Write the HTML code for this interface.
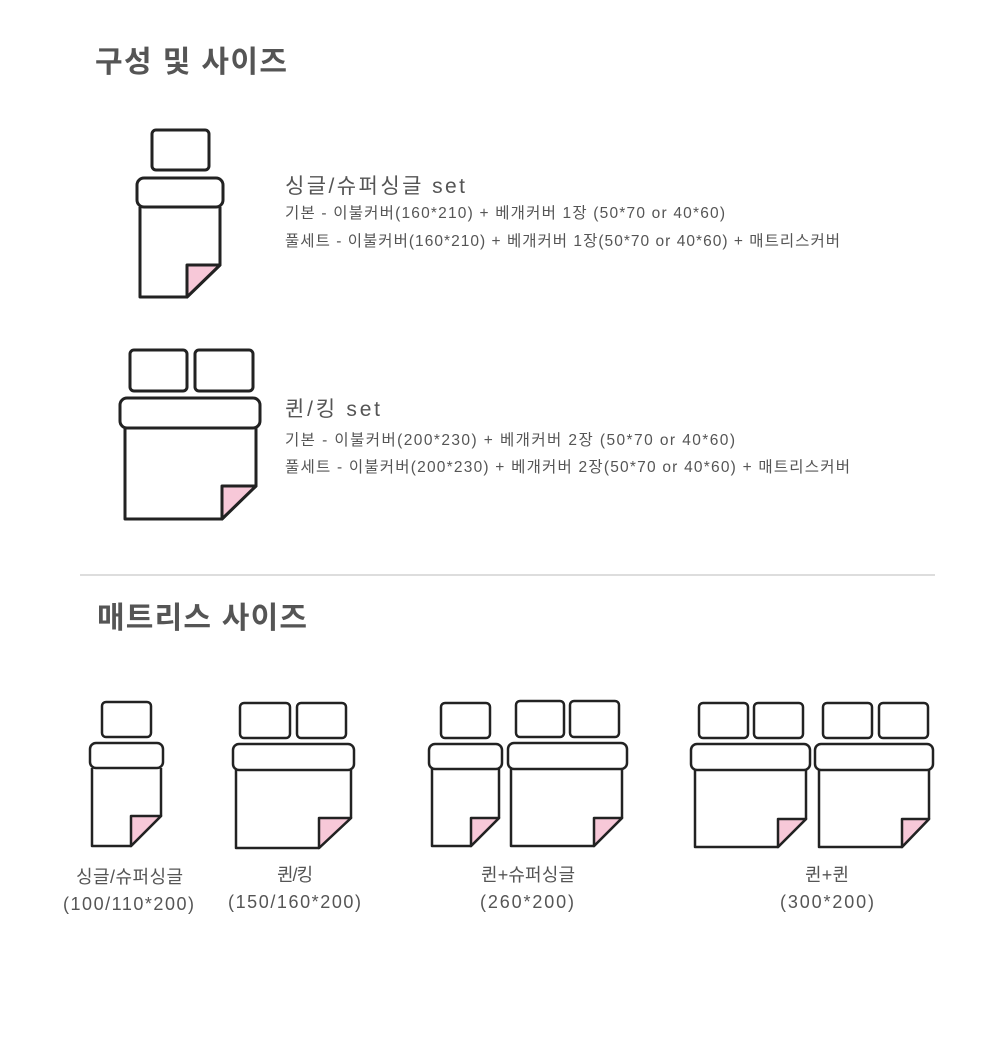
<!DOCTYPE html>
<html><head><meta charset="utf-8"><style>
body{margin:0;background:#fff;width:1000px;height:1061px;overflow:hidden}
svg{display:block}
text{font-family:"Liberation Sans","Noto Sans CJK KR",sans-serif;fill:#555}
.b{fill:#fff;stroke:#222;stroke-linejoin:round}
.p{fill:#f7c8d8;stroke:#222;stroke-linejoin:round}
</style></head><body>
<svg width="1000" height="1061" viewBox="0 0 1000 1061">
<text x="95" y="72" font-size="30" font-weight="bold" textLength="192" lengthAdjust="spacing">구성 및 사이즈</text>
<text x="97" y="628" font-size="30" font-weight="bold" textLength="210" lengthAdjust="spacing">매트리스 사이즈</text>
<line x1="80" y1="575" x2="935" y2="575" stroke="#bbb" stroke-width="1"/>

<g stroke-width="3">
<rect class="b" x="152" y="130" width="57" height="40" rx="4"/>
<path class="b" d="M140,207 L140,297 L187,297 L220,265 L220,207"/>
<rect class="b" x="137" y="178" width="86" height="29" rx="7"/>
<path class="p" d="M187,265 L220,265 L187,297 Z"/>

<rect class="b" x="130" y="350" width="57" height="41" rx="4"/>
<rect class="b" x="195" y="350" width="58" height="41" rx="4"/>
<path class="b" d="M125,428 L125,519 L222,519 L256,486 L256,428"/>
<rect class="b" x="120" y="398" width="140" height="30" rx="7"/>
<path class="p" d="M222,486 L256,486 L222,519 Z"/>
</g>

<text x="285" y="193" font-size="21" textLength="180" lengthAdjust="spacing">싱글/슈퍼싱글 set</text>
<text x="285" y="218" font-size="15.5" textLength="440" lengthAdjust="spacing">기본 - 이불커버(160*210) + 베개커버 1장 (50*70 or 40*60)</text>
<text x="285" y="246" font-size="15.5" textLength="555" lengthAdjust="spacing">풀세트 - 이불커버(160*210) + 베개커버 1장(50*70 or 40*60) + 매트리스커버</text>
<text x="285" y="416" font-size="21" textLength="95" lengthAdjust="spacing">퀸/킹 set</text>
<text x="285" y="445" font-size="15.5" textLength="450" lengthAdjust="spacing">기본 - 이불커버(200*230) + 베개커버 2장 (50*70 or 40*60)</text>
<text x="285" y="472" font-size="15.5" textLength="565" lengthAdjust="spacing">풀세트 - 이불커버(200*230) + 베개커버 2장(50*70 or 40*60) + 매트리스커버</text>

<g stroke-width="2.5">
<rect class="b" x="102" y="702" width="49" height="35" rx="4"/>
<path class="b" d="M92,768 L92,846 L131,846 L161,816 L161,768"/>
<rect class="b" x="90" y="743" width="73" height="25" rx="6"/>
<path class="p" d="M131,816 L161,816 L131,846 Z"/>
<rect class="b" x="240" y="703" width="50" height="35" rx="4"/>
<rect class="b" x="297" y="703" width="49" height="35" rx="4"/>
<path class="b" d="M236,770 L236,848 L319,848 L351,818 L351,770"/>
<rect class="b" x="233" y="744" width="121" height="26" rx="6"/>
<path class="p" d="M319,818 L351,818 L319,848 Z"/>
<rect class="b" x="441" y="703" width="49" height="35" rx="4"/>
<path class="b" d="M432,769 L432,846 L471,846 L499,818 L499,769"/>
<rect class="b" x="429" y="744" width="73" height="25" rx="6"/>
<path class="p" d="M471,818 L499,818 L471,846 Z"/>
<rect class="b" x="516" y="701" width="48" height="36" rx="4"/>
<rect class="b" x="570" y="701" width="49" height="36" rx="4"/>
<path class="b" d="M511,769 L511,846 L594,846 L622,818 L622,769"/>
<rect class="b" x="508" y="743" width="119" height="26" rx="6"/>
<path class="p" d="M594,818 L622,818 L594,846 Z"/>
<rect class="b" x="699" y="703" width="49" height="35" rx="4"/>
<rect class="b" x="754" y="703" width="49" height="35" rx="4"/>
<rect class="b" x="823" y="703" width="49" height="35" rx="4"/>
<rect class="b" x="879" y="703" width="49" height="35" rx="4"/>
<path class="b" d="M695,770 L695,847 L778,847 L806,819 L806,770"/>
<rect class="b" x="691" y="744" width="119" height="26" rx="6"/>
<path class="p" d="M778,819 L806,819 L778,847 Z"/>
<path class="b" d="M819,770 L819,847 L902,847 L929,819 L929,770"/>
<rect class="b" x="815" y="744" width="118" height="26" rx="6"/>
<path class="p" d="M902,819 L929,819 L902,847 Z"/>
</g>

<g font-size="18">
<text x="76" y="883" textLength="107" lengthAdjust="spacing">싱글/슈퍼싱글</text>
<text x="63" y="910" textLength="131" lengthAdjust="spacing">(100/110*200)</text>
<text x="277" y="881" textLength="36" lengthAdjust="spacing">퀸/킹</text>
<text x="228" y="908" textLength="133" lengthAdjust="spacing">(150/160*200)</text>
<text x="481" y="881" textLength="94" lengthAdjust="spacing">퀸+슈퍼싱글</text>
<text x="480" y="908" textLength="94" lengthAdjust="spacing">(260*200)</text>
<text x="805" y="881" textLength="44" lengthAdjust="spacing">퀸+퀸</text>
<text x="780" y="908" textLength="94" lengthAdjust="spacing">(300*200)</text>
</g>
</svg>
</body></html>
